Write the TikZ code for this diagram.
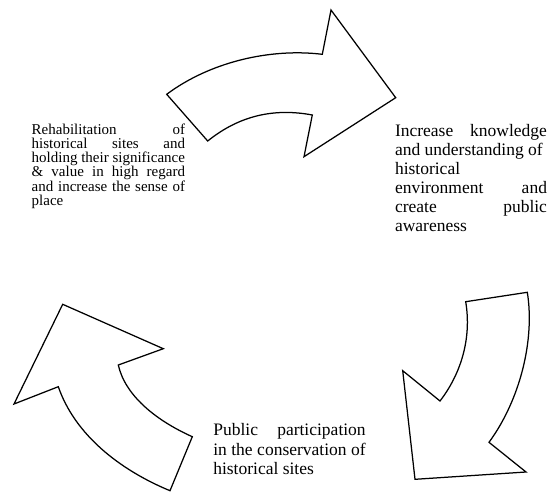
\documentclass[tikz,border=0pt]{standalone}
\usepackage{fontspec}
\setmainfont{Liberation Serif}
\hyphenpenalty=10000
\exhyphenpenalty=10000
\tolerance=9999
\begin{document}
\begin{tikzpicture}[x=1pt,y=-1pt,
  bigarrow/.style={draw=black, line width=1.25pt, fill=white, line join=miter},
  smalltxt/.style={anchor=north west, inner sep=0pt, outer sep=0pt, align=justify,
    font=\fontsize{15}{14.1}\selectfont},
  bigtxt/.style={anchor=north west, inner sep=0pt, outer sep=0pt, align=justify,
    font=\fontsize{17.5}{19}\selectfont}]
\useasboundingbox (0,0) rectangle (553,492);
% top arrow
\draw[bigarrow] (166.7,94.3) .. controls (210,62) and (270,48) .. (322.3,54.3)
  -- (331,10) -- (395.7,97.7) -- (304,156.7) -- (312.3,115)
  .. controls (275,108) and (240,115) .. (207.7,141) -- cycle;
% right arrow
\draw[bigarrow] (465.7,301.7) -- (527.3,292.3)
  .. controls (535,340) and (520,400) .. (489,442.3)
  -- (526,472) -- (415,479.3) -- (402.7,370.7) -- (440,401)
  .. controls (460,375) and (472,340) .. (465.7,301.7) -- cycle;
% left arrow
\draw[bigarrow] (62.7,304.3) -- (163.3,348.7) -- (118.3,365)
  .. controls (125,395) and (155,420) .. (192.3,436.7)
  -- (170,490.7)
  .. controls (120,470) and (75,435) .. (58.3,386.7)
  -- (14,404) -- cycle;
% texts
\node[smalltxt, text width=153.3pt] (rehab) at (31.7,124.1)
  {Rehabilitation of\linebreak historical sites and\linebreak holding their significance\linebreak \& value in high regard\linebreak and increase the sense of\linebreak place};
\node[bigtxt, text width=152pt] (know) at (395,124.8)
  {Increase knowledge\linebreak and understanding of\newline historical\newline environment and\linebreak create public\linebreak awareness};
\node[bigtxt, text width=152.4pt, font=\fontsize{17.5}{19.7}\selectfont] (part) at (213.3,423.3)
  {Public participation\linebreak in the conservation of\linebreak historical sites};
\end{tikzpicture}
\end{document}
